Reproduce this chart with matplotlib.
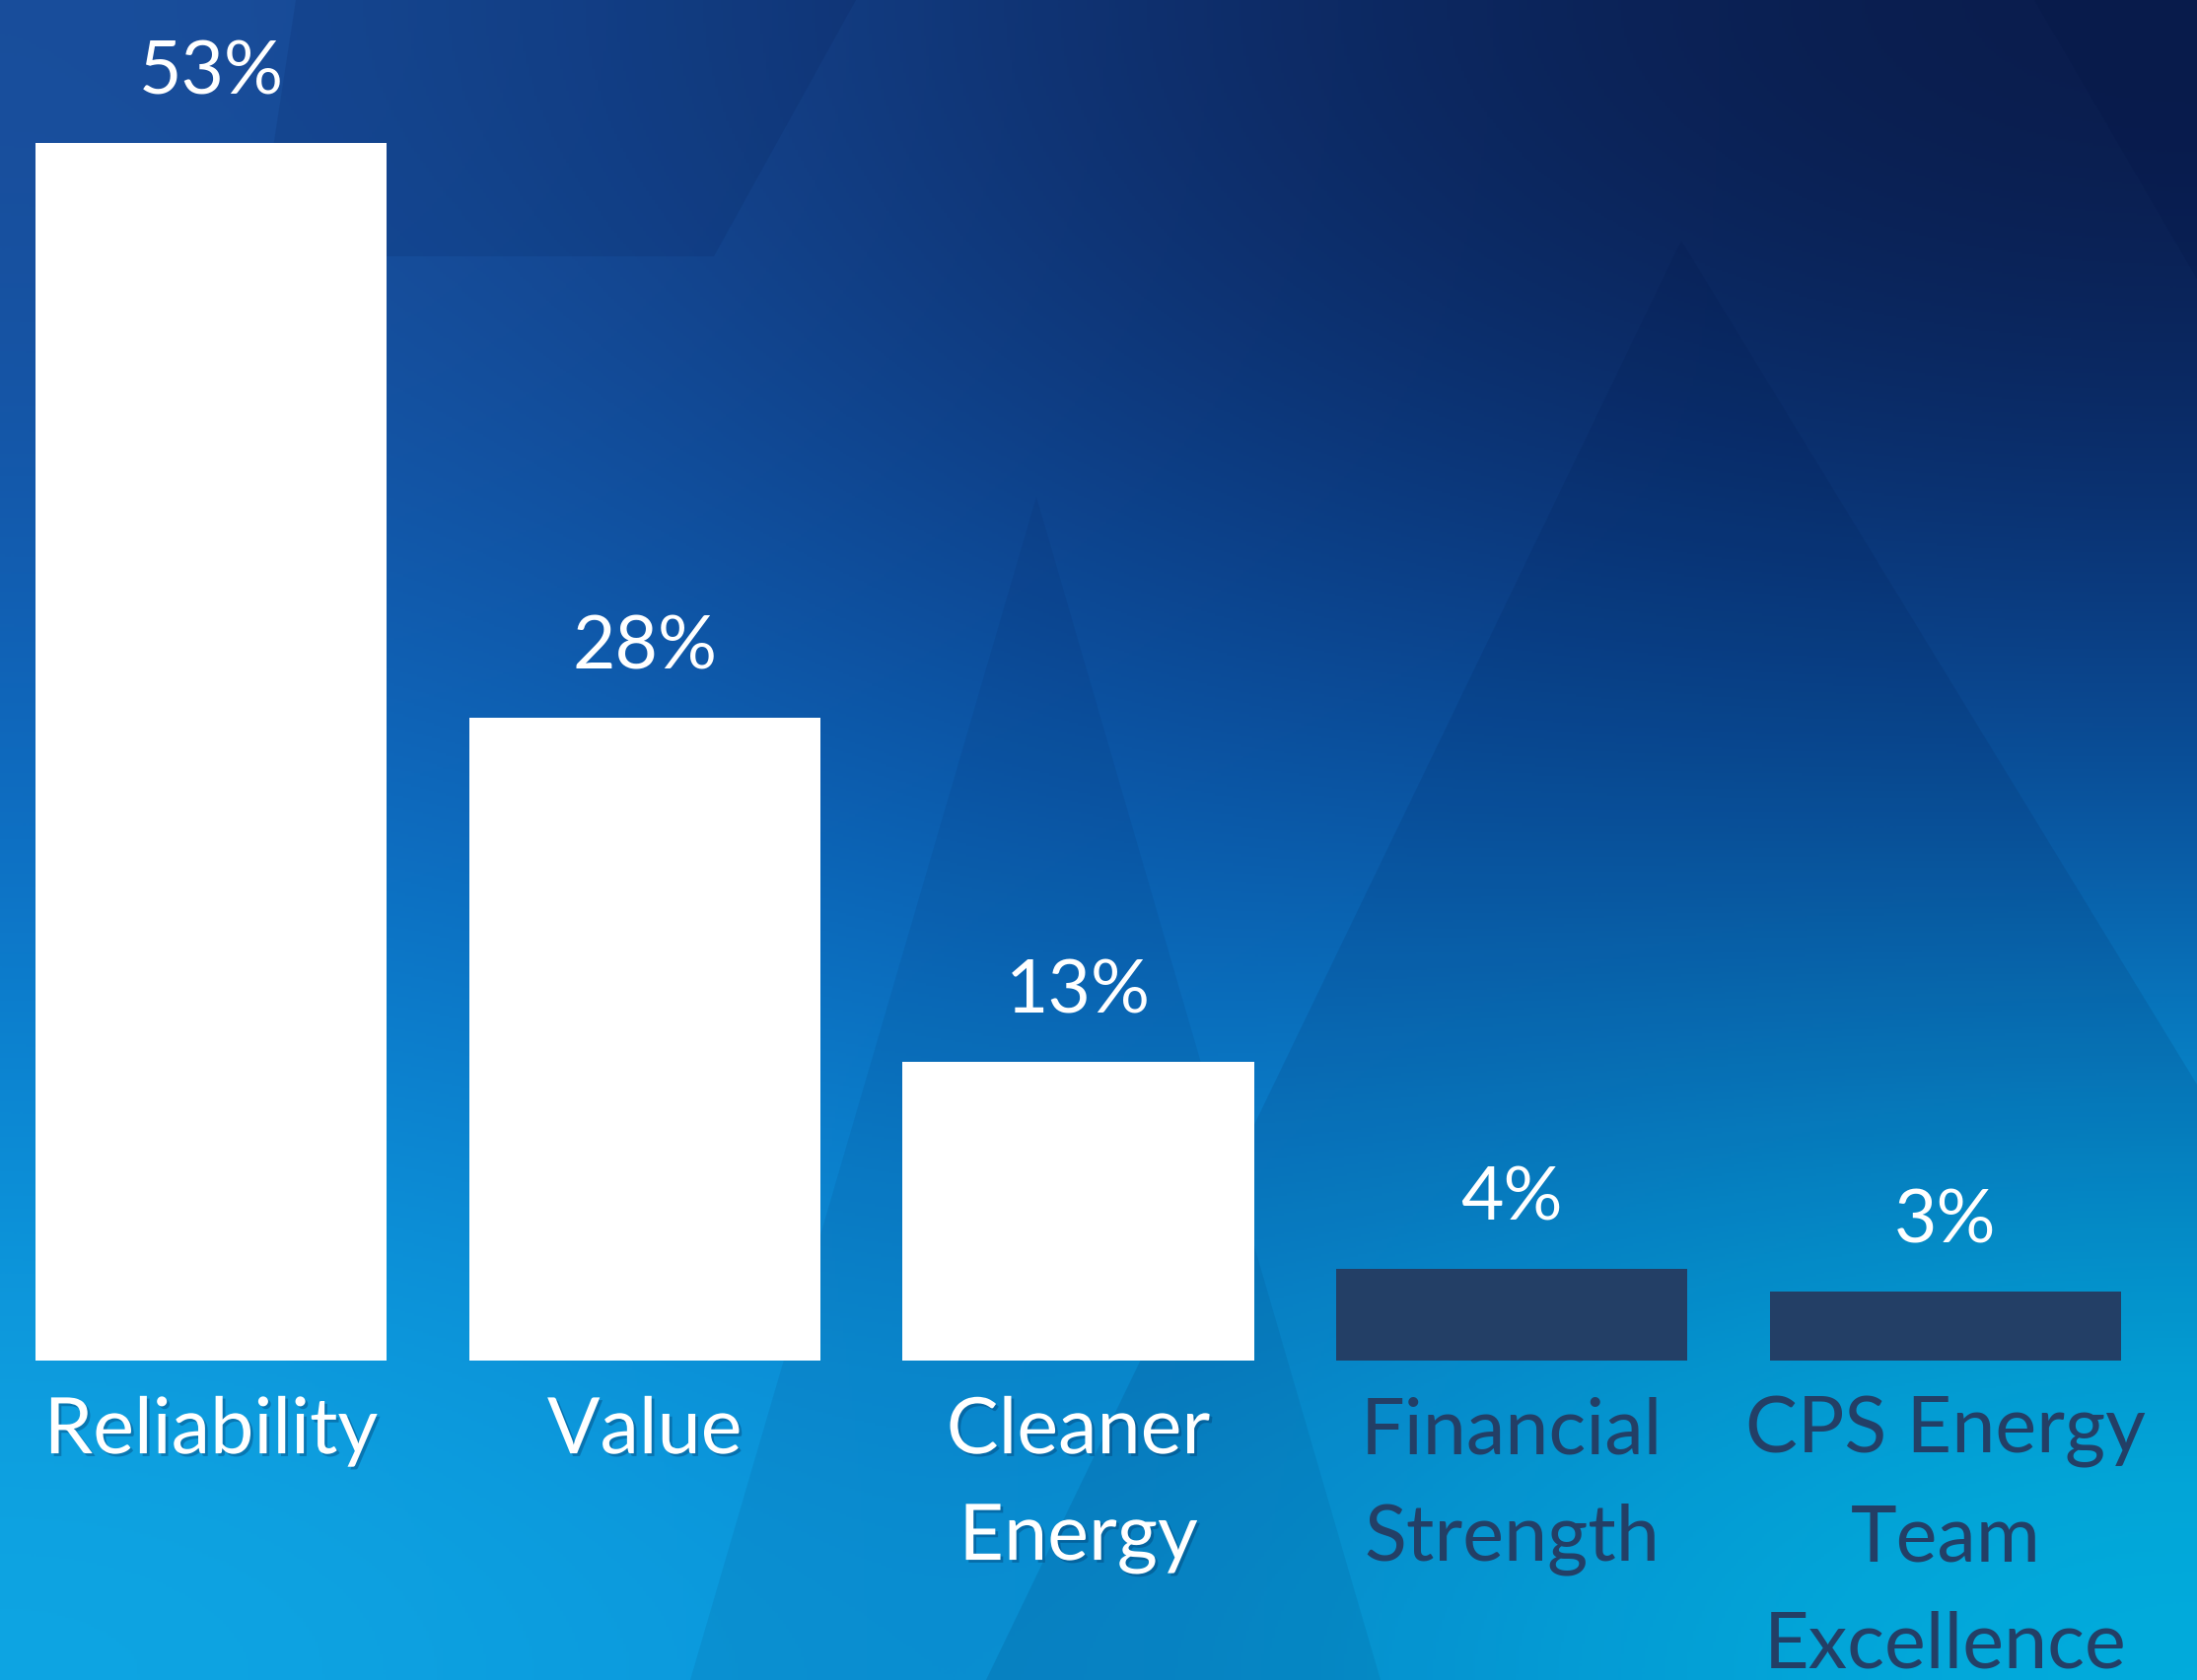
import numpy as np
import matplotlib.pyplot as plt
from matplotlib.patches import Polygon
import matplotlib.patheffects as pe

categories = ['Reliability', 'Value', 'Cleaner\nEnergy', 'Financial\nStrength', 'CPS Energy\nTeam\nExcellence']
values = [53, 28, 13, 4, 3]
value_labels = ['53%', '28%', '13%', '4%', '3%']

white = '#ffffff'
navy = '#233f66'
bar_colors = [white, white, white, navy, navy]
label_colors = [white, white, white, navy, navy]

plt.rcParams['font.family'] = ['Lato', 'DejaVu Sans']

W, H = 2228, 1704
fig = plt.figure(figsize=(W / 100, H / 100), dpi=100)

# background gradient (slide backdrop)
bg_grid = np.array([
    [[0x1a, 0x4e, 0x9c], [0x0e, 0x2e, 0x6c], [0x0a, 0x1a, 0x48]],
    [[0x0b, 0x6c, 0xc6], [0x0a, 0x56, 0xae], [0x0b, 0x4f, 0xa6]],
    [[0x0e, 0xa8, 0xe4], [0x0a, 0x8f, 0xd8], [0x02, 0xc4, 0xf2]],
]) / 255.0
bg = fig.add_axes([0, 0, 1, 1])
bg.imshow(bg_grid, extent=(0, W, H, 0), interpolation='bicubic', aspect='auto')
bg.set_xlim(0, W)
bg.set_ylim(H, 0)
bg.axis('off')

# faint mountain shapes
shade = '#001040'
bg.add_patch(Polygon([(1705, 244), (1000, 1704), (2228, 1704), (2228, 1100)], closed=True,
                     facecolor=shade, alpha=0.10, lw=0))
bg.add_patch(Polygon([(1051, 504), (700, 1704), (1400, 1704)], closed=True,
                     facecolor=shade, alpha=0.07, lw=0))
bg.add_patch(Polygon([(300, 0), (260, 260), (724, 260), (868, 0)], closed=True,
                     facecolor=shade, alpha=0.10, lw=0))
bg.add_patch(Polygon([(2063, 0), (2228, 283), (2228, 0)], closed=True,
                     facecolor=shade, alpha=0.15, lw=0))

# bar chart
ax = fig.add_axes([0, 1 - 1380 / H, 1, 1380 / H])
ax.patch.set_alpha(0)
x = np.arange(len(values))
ax.bar(x, values, width=0.81, color=bar_colors)
ax.set_xlim(-214 / 439.75, (W - 214) / 439.75)
ax.set_ylim(0, 1380 / 23.3)

for xi, v, lab in zip(x, values, value_labels):
    ax.annotate(lab, (xi, v), xytext=(0, 26), textcoords='offset points',
                ha='center', va='bottom', color='white', fontsize=54)

ax.set_xticks(x)
ax.set_xticklabels(categories, fontsize=57, linespacing=1.62, va='top')
for t, c in zip(ax.get_xticklabels(), label_colors):
    t.set_color(c)
    if c == white:
        t.set_path_effects([pe.withSimplePatchShadow(offset=(2, -2), alpha=0.35, shadow_rgbFace='#003060')])
ax.tick_params(axis='x', length=0, pad=26)
ax.set_yticks([])
for s in ax.spines.values():
    s.set_visible(False)

fig.savefig('out.png', dpi=100)
